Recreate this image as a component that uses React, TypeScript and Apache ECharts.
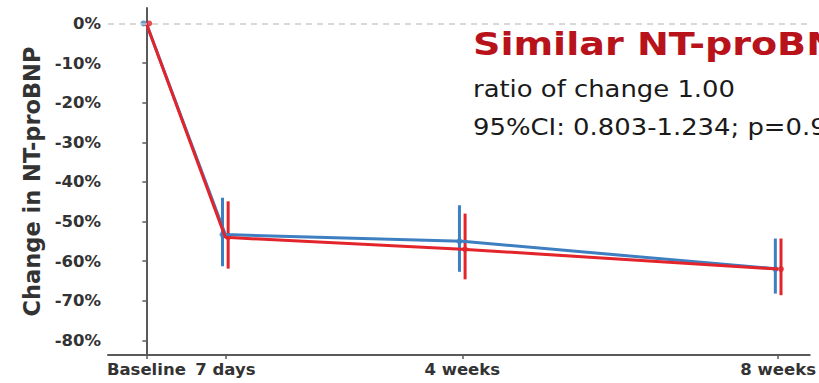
import React, { useEffect, useRef } from "react";
import * as echarts from "echarts";

// Time points (days from baseline) and their tick labels
const days = [0, 7, 28, 56];
const tickLabels = ["Baseline", "7 days", "4 weeks", "8 weeks"];
const yTicks = [0, -10, -20, -30, -40, -50, -60, -70, -80];

// Blue group (% change in NT-proBNP) with 95% CI
const blueMean = [0, -53.3, -55.0, -62.0];
const blueLow = [null, -61.3, -62.7, -68.2];
const blueHigh = [null, -44.0, -45.9, -54.3];

// Red group
const redMean = [0, -54.0, -57.0, -62.0];
const redLow = [null, -61.9, -64.6, -68.6];
const redHigh = [null, -44.9, -48.0, -54.3];

const dodge = 0.25;
const BLUE = "#3d7fc1";
const RED = "#e3242b";

function errData(low: (number | null)[], high: (number | null)[], off: number) {
  const out: number[][] = [];
  days.forEach((d, i) => {
    if (low[i] != null && high[i] != null) out.push([d + off, low[i] as number, high[i] as number]);
  });
  return out;
}

function errSeries(color: string, data: number[][]) {
  return {
    type: "custom",
    silent: true,
    encode: { x: 0, y: [1, 2] },
    data,
    renderItem: (_p: any, api: any) => {
      const a = api.coord([api.value(0), api.value(1)]);
      const b = api.coord([api.value(0), api.value(2)]);
      return {
        type: "line",
        shape: { x1: a[0], y1: a[1], x2: b[0], y2: b[1] },
        style: { stroke: color, lineWidth: 3 },
      };
    },
  };
}

export default function App() {
  const ref = useRef<HTMLDivElement>(null);
  useEffect(() => {
    if (!ref.current) return;
    const chart = echarts.init(ref.current, null, { renderer: "svg" });
    const labelFont = { fontFamily: "DejaVu Sans", fontWeight: "bold" as const, fontSize: 16.5, color: "#333" };
    chart.setOption({
      animation: false,
      backgroundColor: "#ffffff",
      grid: { left: 108, right: 0, top: 8, bottom: 28 },
      xAxis: {
        type: "value",
        min: -3.4,
        max: 58.8,
        splitLine: { show: false },
        axisLine: { show: true, onZero: false, lineStyle: { color: "#5a5a5a", width: 2 } },
        axisTick: { show: true, customValues: days, length: 4, lineStyle: { color: "#5a5a5a", width: 1.5 } },
        axisLabel: {
          ...labelFont,
          margin: 6,
          customValues: days,
          formatter: (v: number) => tickLabels[days.indexOf(v)] ?? "",
        },
      },
      yAxis: {
        type: "value",
        min: -83.7,
        max: 3.9,
        splitLine: { show: false },
        axisLine: { show: true, lineStyle: { color: "#5a5a5a", width: 2 } },
        axisTick: { show: true, customValues: yTicks, length: 4, lineStyle: { color: "#5a5a5a", width: 1.5 } },
        axisLabel: {
          ...labelFont,
          margin: 7,
          customValues: yTicks,
          formatter: (v: number) => `${Math.round(v)}%`,
        },
        name: "Change in NT-proBNP",
        nameLocation: "middle",
        nameGap: 50,
        nameTextStyle: { fontFamily: "DejaVu Sans", fontWeight: "bold", fontSize: 22.5, color: "#333" },
      },
      series: [
        {
          type: "line",
          data: [],
          silent: true,
          markLine: {
            silent: true,
            symbol: "none",
            label: { show: false },
            lineStyle: { type: [6, 5], color: "#cccccc", width: 1.5 },
            data: [{ yAxis: 0 }],
          },
        },
        errSeries(BLUE, errData(blueLow, blueHigh, -dodge)),
        {
          type: "line",
          data: days.map((d, i) => [d, blueMean[i]]),
          symbol: "none",
          lineStyle: { color: BLUE, width: 3 },
        },
        {
          type: "scatter",
          data: days.map((d, i) => [d - dodge, blueMean[i]]),
          symbol: "circle",
          symbolSize: 6,
          itemStyle: { color: BLUE },
        },
        errSeries(RED, errData(redLow, redHigh, dodge)),
        {
          type: "line",
          data: days.map((d, i) => [d, redMean[i]]),
          symbol: "none",
          lineStyle: { color: RED, width: 3 },
        },
        {
          type: "scatter",
          data: days.map((d, i) => [d + dodge, redMean[i]]),
          symbol: "circle",
          symbolSize: 6,
          itemStyle: { color: RED },
        },
      ],
      graphic: [
        {
          type: "text",
          x: 473,
          y: 28,
          scaleX: 1.19,
          style: { text: "Similar NT-proBNP", font: "bold 32px 'DejaVu Sans'", fill: "#b8121b" },
        },
        {
          type: "text",
          x: 473,
          y: 78,
          scaleX: 1.15,
          style: { text: "ratio of change 1.00", font: "22.5px 'DejaVu Sans'", fill: "#1a1a1a" },
        },
        {
          type: "text",
          x: 473,
          y: 116,
          scaleX: 1.15,
          style: { text: "95%CI: 0.803-1.234; p=0.9", font: "22.5px 'DejaVu Sans'", fill: "#1a1a1a" },
        },
      ],
    });
    return () => chart.dispose();
  }, []);
  return (
    <div
      ref={ref}
      style={{ position: "absolute", left: 0, top: 0, width: 819, height: 383 }}
    />
  );
}
